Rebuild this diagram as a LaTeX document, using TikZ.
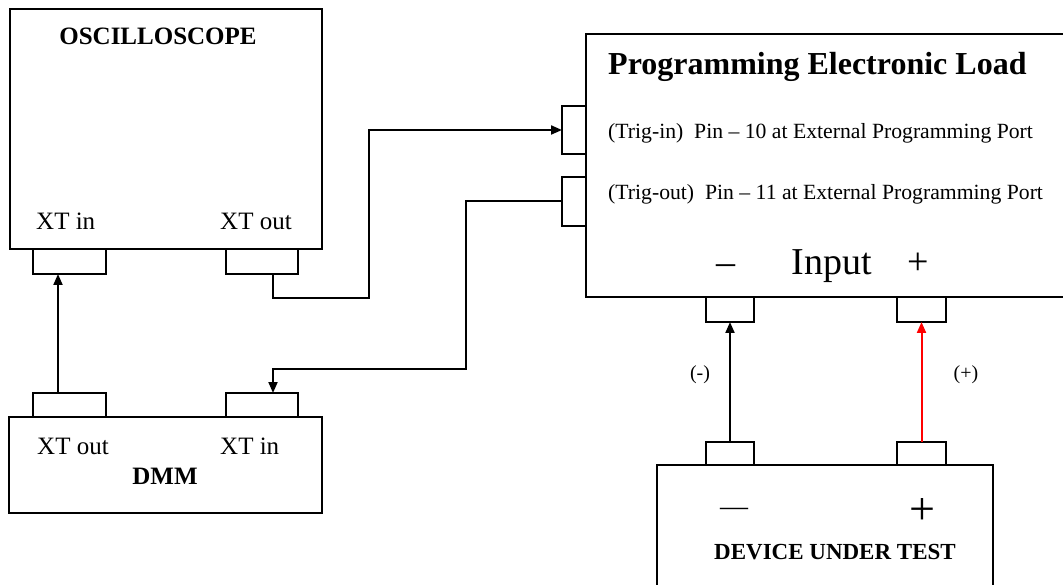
\documentclass[tikz,border=0pt]{standalone}
\usepackage{fontspec}
\setmainfont{Liberation Serif}
\usetikzlibrary{arrows.meta}
\begin{document}
\begin{tikzpicture}[x=1pt,y=-1pt,
  box/.style={draw,line width=2pt,inner sep=0pt,outer sep=0pt},
  port/.style={draw,line width=2pt,inner sep=0pt,outer sep=0pt},
  wire/.style={line width=2pt},
  arr/.style={wire,-{Triangle[length=11pt,width=9pt]}},
  lab/.style={inner sep=0pt,font=\fontsize{25}{30}\selectfont},
  blab/.style={inner sep=0pt,font=\fontsize{25}{30}\selectfont\bfseries},
  trig/.style={inner sep=0pt,font=\fontsize{21.7}{26}\selectfont,anchor=base west},
  big/.style={inner sep=0pt,font=\fontsize{38}{44}\selectfont,anchor=base}
]
\useasboundingbox (0,0) rectangle (1063,585);
\clip (0,0) rectangle (1063,585);
\fill[white] (0,0) rectangle (1063,585);

% Oscilloscope
\node[box,minimum width=312pt,minimum height=240pt,anchor=north west] (scope) at (10,9) {};
\node[port,minimum width=73pt,minimum height=25pt,anchor=north west] (sxi) at (33,249) {};
\node[port,minimum width=72pt,minimum height=25pt,anchor=north west] (sxo) at (226,249) {};
\node[blab,anchor=base] (tscope) at (158,45) {OSCILLOSCOPE};
\node[lab,anchor=base west] (tsxi) at (36,230) {XT in};
\node[lab,anchor=base west] (tsxo) at (220,230) {XT out};

% DMM
\node[box,minimum width=313pt,minimum height=96pt,anchor=north west] (dmm) at (9,417) {};
\node[port,minimum width=73pt,minimum height=24pt,anchor=south west] (dxo) at (33,417) {};
\node[port,minimum width=72pt,minimum height=24pt,anchor=south west] (dxi) at (226,417) {};
\node[lab,anchor=base west] (tdxo) at (37,454) {XT out};
\node[lab,anchor=base west] (tdxi) at (220,454) {XT in};
\node[blab,anchor=base] (tdmm) at (165,484) {DMM};

% Programming Electronic Load
\node[box,minimum width=500pt,minimum height=263pt,anchor=north west] (load) at (586,34) {};
\node[port,minimum width=24pt,minimum height=48pt,anchor=north east] (lti) at (586,106) {};
\node[port,minimum width=24pt,minimum height=49pt,anchor=north east] (lto) at (586,177) {};
\node[port,minimum width=48pt,minimum height=25pt,anchor=north west] (lm) at (706,297) {};
\node[port,minimum width=49pt,minimum height=25pt,anchor=north west] (lp) at (897,297) {};
\node[inner sep=0pt,font=\fontsize{32}{38}\selectfont\bfseries,anchor=base west] (tload) at (608,75) {Programming Electronic Load};
\node[trig] (ttin) at (608,139) {(Trig-in)\ \ Pin -- 10 at External Programming Port};
\node[trig] (ttout) at (608,200) {(Trig-out)\ \ Pin -- 11 at External Programming Port};
\node[big] (tinput) at (832,275) {Input};
\node[big] (tlm) at (726,275) {--};
\node[big] (tlp) at (918,275) {+};

% Device under test
\node[box,minimum width=336pt,minimum height=125pt,anchor=north west] (dut) at (657,465) {};
\node[port,minimum width=48pt,minimum height=23pt,anchor=south west] (dm) at (706,465) {};
\node[port,minimum width=49pt,minimum height=23pt,anchor=south west] (dp) at (897,465) {};
\node[inner sep=0pt,font=\fontsize{28}{32}\selectfont] (tdm) at (734,512) {---};
\node[inner sep=0pt,font=\fontsize{46}{50}\selectfont] (tdp) at (922,512) {+};
\node[inner sep=0pt,font=\fontsize{23}{28}\selectfont\bfseries,anchor=base] (tdut) at (835,559) {DEVICE UNDER TEST};

% Connection labels
\node[inner sep=0pt,font=\fontsize{20}{24}\selectfont] (tneg) at (700,375) {(-)};
\node[inner sep=0pt,font=\fontsize{20}{24}\selectfont] (tpos) at (966,375) {(+)};

% Connectors
\coordinate (c1) at (369,298);
\coordinate (c2) at (466,369);
\draw[arr] ([xshift=-11.5pt]dxo.north) -- ([xshift=-11.5pt]sxi.south);
\draw[arr] ([xshift=11pt]sxo.south) |- (c1) |- (lti.west);
\draw[arr] (lto.west) -| (c2) -| ([xshift=11pt]dxi.north);
\draw[arr] (dm.north) -- (lm.south);
\draw[arr,red] (dp.north) -- (lp.south);
\end{tikzpicture}
\end{document}
